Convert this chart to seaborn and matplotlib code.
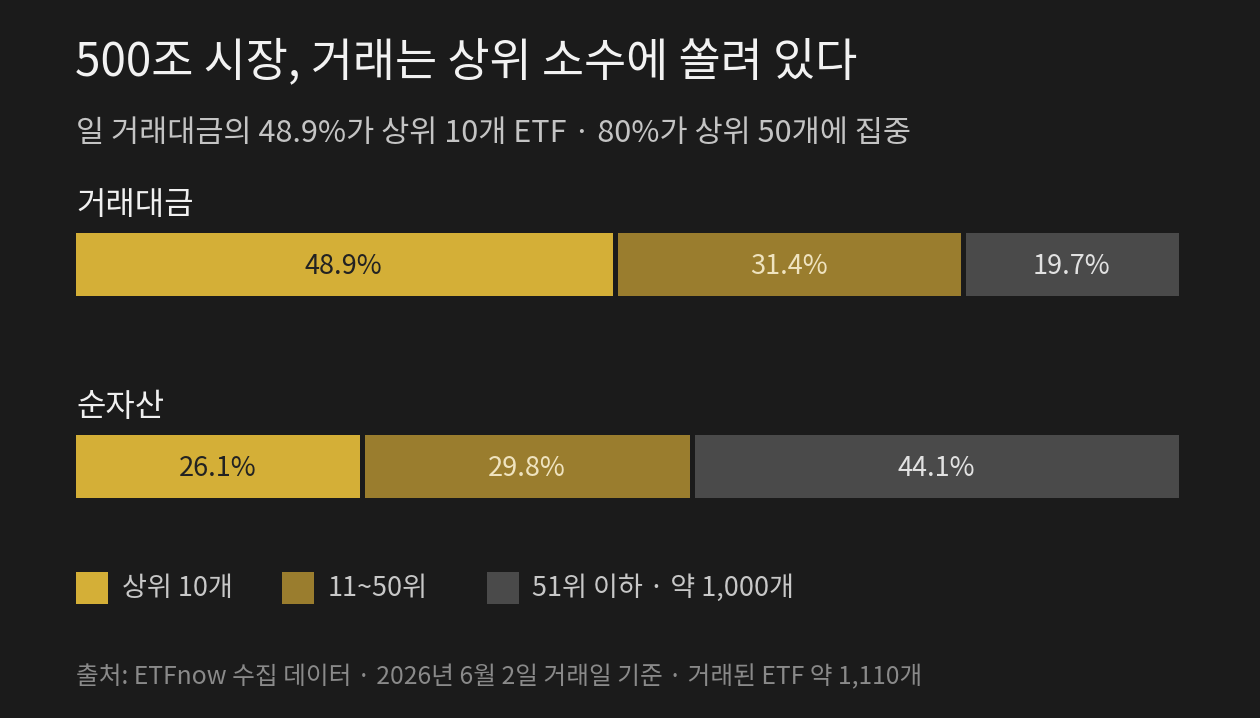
import numpy as np
import pandas as pd
import matplotlib
matplotlib.use("Agg")
import matplotlib.pyplot as plt
from matplotlib.patches import Rectangle
import seaborn as sns

# ---- data ----
categories = ["거래대금", "순자산"]
top10 = [48.9, 26.1]
mid_11_50 = [31.4, 29.8]
rest_51 = [19.7, 44.1]
series_names = ["상위 10개", "11~50위", "51위 이하 · 약 1,000개"]

title = "500조 시장, 거래는 상위 소수에 쏠려 있다"
subtitle = "일 거래대금의 48.9%가 상위 10개 ETF · 80%가 상위 50개에 집중"
footer = "출처: ETFnow 수집 데이터 · 2026년 6월 2일 거래일 기준 · 거래된 ETF 약 1,110개"

# ---- style ----
BG = "#1b1b1b"
colors = ["#d4af37", "#9a7d2e", "#4a4a4a"]
label_colors = ["#222222", "#efe3bf", "#e2e2e2"]

sns.set_theme(style="white")
plt.rcParams["font.family"] = ["Noto Sans CJK KR", "DejaVu Sans"]

W, H = 1260, 718
fig = plt.figure(figsize=(W / 100, H / 100), dpi=100, facecolor=BG)

# axes placed in pixel terms
x0_px, x1_px = 72.8, 1180.8
yc0, yc1 = 264.5, 466.5
step = yc1 - yc0
top_px = yc0 - step / 2
bot_px = yc1 + step / 2
ax = fig.add_axes([x0_px / W, (H - bot_px) / H, (x1_px - x0_px) / W, (bot_px - top_px) / H])
ax.set_facecolor(BG)

vals = np.array([top10, mid_11_50, rest_51])
cum = np.cumsum(vals, axis=0)

bar_w = 68 / step
# draw cumulative totals from largest to smallest so the segments overlay
for k in [2, 1, 0]:
    df = pd.DataFrame({"cat": categories, "value": cum[k]})
    sns.barplot(data=df, x="value", y="cat", orient="h", color=colors[k],
                saturation=1, width=bar_w, edgecolor=BG, linewidth=3.6, ax=ax)

ax.set_xlim(0, 100)
ax.set_ylim(1.5, -0.5)
ax.axis("off")

# segment labels
for i in range(len(categories)):
    for k in range(3):
        start = cum[k][i] - vals[k][i]
        ax.text(start + vals[k][i] / 2, i + 0.012, f"{vals[k][i]:.1f}%", ha="center", va="center",
                fontsize=19.5, color=label_colors[k])

# row labels
row_label_y = [205, 407]
for i, c in enumerate(categories):
    fig.text(76 / W, 1 - row_label_y[i] / H, c, ha="left", va="center",
             fontsize=23, color="#f0f0f0")

# title / subtitle / footer
fig.text(75 / W, 1 - 62 / H, title, ha="left", va="center", fontsize=33, color="#f2f2f2")
fig.text(76 / W, 1 - 134 / H, subtitle, ha="left", va="center", fontsize=22, color="#c4c4c4")
fig.text(76 / W, 1 - 677 / H, footer, ha="left", va="center", fontsize=17.8, color="#8a8a8a")

# legend
leg_sq_x = [76, 282, 487]
leg_txt_x = [122, 328, 532]
for k in range(3):
    fig.add_artist(Rectangle((leg_sq_x[k] / W, 1 - 604 / H), 32 / W, 32 / H,
                             transform=fig.transFigure, facecolor=colors[k], edgecolor="none"))
    fig.text(leg_txt_x[k] / W, 1 - 588 / H, series_names[k], ha="left", va="center",
             fontsize=19.5, color="#c8c8c8")

fig.savefig("out.png", dpi=100, facecolor=BG)
